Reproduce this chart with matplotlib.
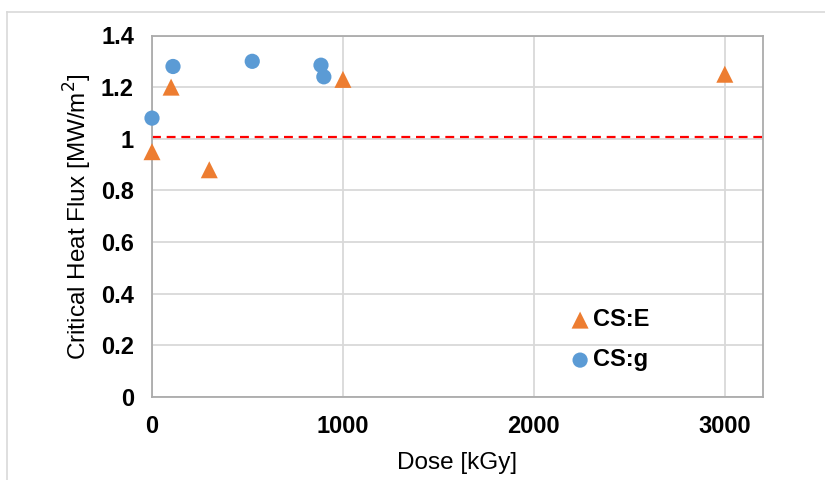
import matplotlib.pyplot as plt
from matplotlib.lines import Line2D

plt.rcParams['font.family'] = ['Liberation Sans', 'DejaVu Sans']

# Critical heat flux vs. irradiation dose
dose_e = [0, 100, 300, 1000, 3000]
chf_e = [0.95, 1.20, 0.88, 1.23, 1.25]

dose_g = [0, 110, 525, 885, 900]
chf_g = [1.08, 1.28, 1.30, 1.285, 1.24]

chf_ref = 1.005

xticks = [0, 1000, 2000, 3000]
yticks = [0, 0.2, 0.4, 0.6, 0.8, 1.0, 1.2, 1.4]
yticklabels = ['0', '0.2', '0.4', '0.6', '0.8', '1', '1.2', '1.4']

fig = plt.figure(figsize=(8.25, 4.8), dpi=100)
ax = fig.add_axes([152 / 825, 1 - 397 / 480, (763 - 152) / 825, (397 - 35.5) / 480])

# thin frame around the whole figure
fig.add_artist(Line2D([6.5 / 825, 6.5 / 825], [0, 1 - 11.5 / 480], color='#D9D9D9', lw=1.2))
fig.add_artist(Line2D([6.5 / 825, 1], [1 - 11.5 / 480, 1 - 11.5 / 480], color='#D9D9D9', lw=1.2))

ax.set_xlim(0, 3200)
ax.set_ylim(0, 1.4)
ax.set_xticks(xticks)
ax.set_yticks(yticks)
ax.set_yticklabels(yticklabels)
ax.grid(True, color='#D9D9D9', linewidth=1.3, zorder=0)
ax.set_axisbelow(True)

for side in ax.spines.values():
    side.set_color('#ABABAB')
    side.set_linewidth(1.3)

ax.tick_params(length=0, labelsize=17, pad=13)
for lab in ax.get_xticklabels() + ax.get_yticklabels():
    lab.set_fontweight('bold')

ax.axhline(chf_ref, color='#FF0000', linestyle=(0, (4, 2.6)), linewidth=1.6, zorder=2)

ax.scatter(dose_e, chf_e, marker='^', s=150, color='#ED7D31', edgecolor='none',
           label='CS:E', zorder=3, clip_on=False)
ax.scatter(dose_g, chf_g, marker='o', s=120, color='#5B9BD5', edgecolor='none',
           label='CS:g', zorder=3, clip_on=False)

ax.set_xlabel('Dose [kGy]', fontsize=17.5, labelpad=10)
ax.set_ylabel('Critical Heat Flux [MW/m$^2$]', fontsize=17.5, labelpad=5)

leg = ax.legend(loc='upper left', bbox_to_anchor=(0.662, 0.278), frameon=False,
                handletextpad=0.05, handlelength=1.0, labelspacing=0.72,
                prop={'size': 17, 'weight': 'bold'}, borderpad=0)

fig.savefig('out.png', dpi=100)
